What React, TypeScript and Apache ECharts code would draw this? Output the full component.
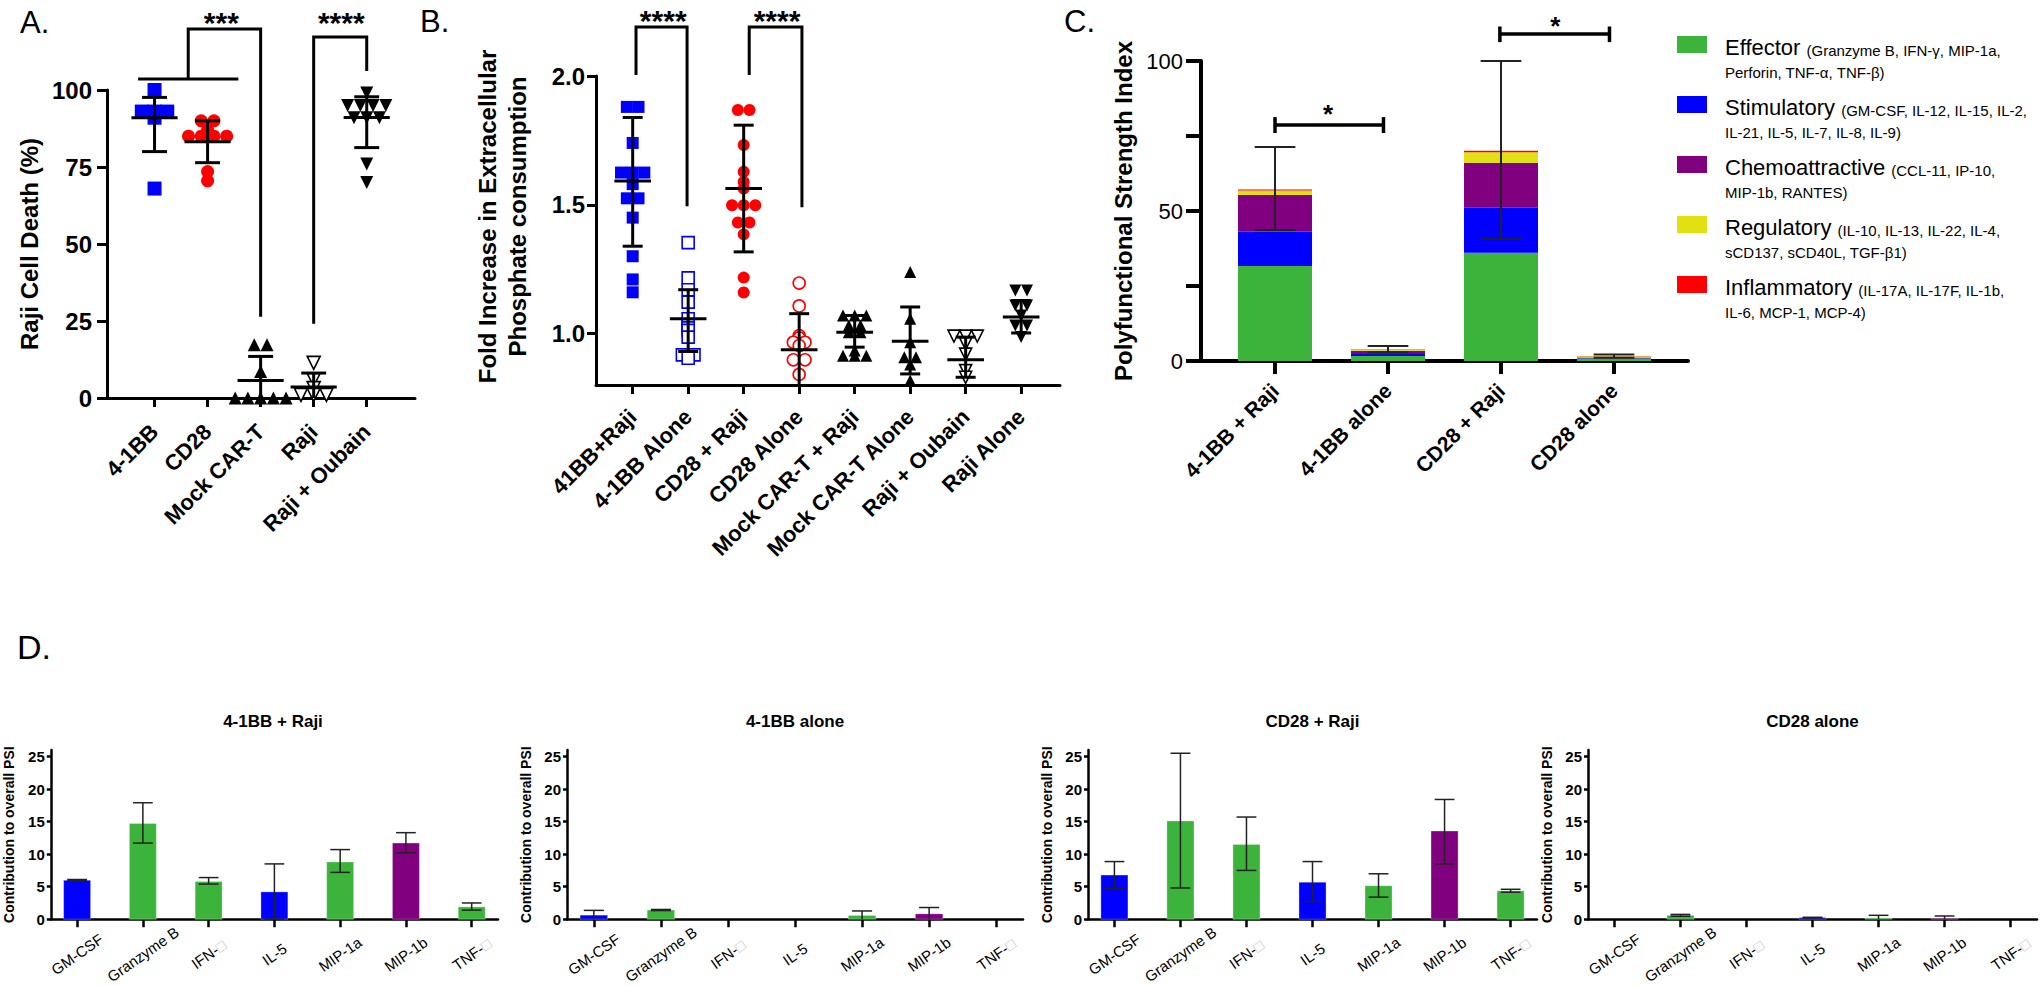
import React, { useEffect, useRef } from 'react';
import * as echarts from 'echarts';

const FONT = '"Liberation Sans", Arial, Helvetica, sans-serif';
const BLACK = '#000000';

// ---------------- Panel A : Raji cell death ----------------
const aCategories = ['4-1BB', 'CD28', 'Mock CAR-T', 'Raji', 'Raji + Oubain'];
const a41BB = [100, 93, 93, 93, 91, 68];
const aCD28 = [90, 90, 87, 85, 85, 85, 85, 73.5, 70.5];
const aMockCART = [17.3, 17.3, 8.6, 0, 0, 0, 0, 0];
const aRaji = [11.4, 5.9, 3.2, 1, 1, 1];
const aRajiOubain = [99, 95, 95, 95, 95, 91, 91, 91, 76, 70];
const aMean = [91, 83.2, 5.7, 3.6, 91.1];
const aLower = [80, 76.4, -2.1, -0.9, 81.3];
const aUpper = [97.6, 90, 13.5, 8.1, 97.8];
const aTicks = [0, 25, 50, 75, 100];
const aBracketLines = [
  [[-0.31, 103.6], [1.58, 103.6]],
  [[0.635, 103.6], [0.635, 119.8], [2.0, 119.8], [2.0, 26.4]],
  [[3.0, 24.1], [3.0, 117.2], [4.0, 117.2], [4.0, 106.2]],
];
const aStars = [
  { x: 1.26, y: 122, text: '***' },
  { x: 3.52, y: 122, text: '****' },
];

// ---------------- Panel B : phosphate consumption ----------------
const bCategories = ['41BB+Raji', '4-1BB Alone', 'CD28 + Raji', 'CD28 Alone', 'Mock CAR-T + Raji', 'Mock CAR-T Alone', 'Raji + Oubain', 'Raji Alone'];
const b41BBRaji = [1.88, 1.88, 1.74, 1.625, 1.625, 1.625, 1.58, 1.525, 1.525, 1.45, 1.3, 1.21, 1.16];
const b41BBAlone = [1.353, 1.216, 1.17, 1.122, 1.057, 1.031, 1.022, 1.012, 0.986, 0.917, 0.917, 0.904];
const bCD28Raji = [1.868, 1.868, 1.732, 1.628, 1.589, 1.563, 1.498, 1.498, 1.498, 1.431, 1.431, 1.385, 1.217, 1.159];
const bCD28Alone = [1.196, 1.107, 0.992, 0.983, 0.966, 0.966, 0.953, 0.898, 0.898, 0.841];
const bMockRaji = [1.07, 1.07, 1.07, 1.031, 1.031, 1.005, 1.005, 0.934, 0.914, 0.914, 0.914];
const bMockAlone = [1.239, 1.057, 0.966, 0.908, 0.908, 0.88, 0.817];
const bRajiOubain = [0.99, 0.99, 0.99, 0.96, 0.92, 0.856, 0.83];
const bRajiAlone = [1.167, 1.167, 1.109, 1.109, 1.07, 1.031, 1.031, 0.986];
const bMean = [1.592, 1.057, 1.563, 0.937, 1.005, 0.97, 0.898, 1.064];
const bLower = [1.339, 0.93, 1.317, 0.797, 0.947, 0.843, 0.83, 1.002];
const bUpper = [1.839, 1.17, 1.809, 1.077, 1.07, 1.103, 0.986, 1.128];
const bTicks = [1.0, 1.5, 2.0];
const bBracketLines = [
  [[0.06, 2.004], [0.06, 2.19], [0.98, 2.19], [0.98, 1.494]],
  [[2.1, 2.004], [2.1, 2.19], [3.05, 2.19], [3.05, 1.49]],
];
const bStars = [
  { x: 0.55, y: 2.216, text: '****' },
  { x: 2.6, y: 2.216, text: '****' },
];

// ---------------- Panel C : polyfunctional strength index ----------------
const cCategories = ['4-1BB + Raji', '4-1BB alone', 'CD28 + Raji', 'CD28 alone'];
const cEffector = [31.7, 1.7, 36.1, 0.8];
const cStimulatory = [11.4, 0.6, 15.0, 0.2];
const cChemoattractive = [12.2, 1.1, 15.0, 0.2];
const cRegulatory = [1.5, 0.5, 3.5, 0.35];
const cInflammatory = [0.4, 0.1, 0.5, 0.1];
const cLower = [43.7, 3.0, 40.7, 1.1];
const cUpper = [71.3, 5.0, 100, 2.2];
const cTickValues = [0, 25, 50, 75, 100];
const cLabelValues = [0, 50, 100];
const cBracketLines = [
  [[0, 78.7], [0.96, 78.7]], [[0, 81.3], [0, 76]], [[0.96, 81.3], [0.96, 76]],
  [[1.99, 109], [2.96, 109]], [[1.99, 111.5], [1.99, 106.3]], [[2.96, 111.5], [2.96, 106.3]],
];
const cStars = [
  { x: 0.47, y: 82.4, text: '*' },
  { x: 2.48, y: 111.8, text: '*' },
];

const classNames = ['Effector', 'Stimulatory', 'Chemoattractive', 'Regulatory', 'Inflammatory'];
const classColors = ['#3cb43c', '#0000ff', '#800080', '#e1e112', '#ff0000'];
const classLine1 = ['(Granzyme B, IFN-γ, MIP-1a,', '(GM-CSF, IL-12, IL-15, IL-2,', '(CCL-11, IP-10,', '(IL-10, IL-13, IL-22, IL-4,', '(IL-17A, IL-17F, IL-1b,'];
const classLine2 = ['Perforin, TNF-α, TNF-β)', 'IL-21, IL-5, IL-7, IL-8, IL-9)', 'MIP-1b, RANTES)', 'sCD137, sCD40L, TGF-β1)', 'IL-6, MCP-1, MCP-4)'];

// ---------------- Panel D : contribution to overall PSI ----------------
const dCytokines = ['GM-CSF', 'Granzyme B', 'IFN-□', 'IL-5', 'MIP-1a', 'MIP-1b', 'TNF-□'];
const dCytokineClass = [1, 0, 0, 1, 0, 2, 0];
const dTitles = ['4-1BB + Raji', '4-1BB alone', 'CD28 + Raji', 'CD28 alone'];
const d41BBRaji = [6.0, 14.7, 5.8, 4.2, 8.8, 11.7, 1.9];
const d41BBRajiLower = [5.95, 11.7, 5.4, 0, 7.2, 10.2, 1.4];
const d41BBRajiUpper = [6.1, 17.9, 6.4, 8.5, 10.7, 13.3, 2.5];
const d41BBAlone = [0.63, 1.41, 0, 0, 0.58, 0.83, 0];
const d41BBAloneLower = [-0.1, 1.33, 0, 0, -0.1, -0.1, 0];
const d41BBAloneUpper = [1.36, 1.5, 0, 0, 1.27, 1.8, 0];
const dCD28Raji = [6.78, 15.1, 11.5, 5.7, 5.15, 13.56, 4.36];
const dCD28RajiLower = [4.7, 4.8, 7.5, 2.7, 3.4, 8.5, 4.15];
const dCD28RajiUpper = [8.86, 25.5, 15.7, 8.86, 6.98, 18.4, 4.6];
const dCD28Alone = [0, 0.6, 0, 0.25, 0.2, 0.15, 0];
const dCD28AloneLower = [0, 0.46, 0, 0.2, -0.1, -0.1, 0];
const dCD28AloneUpper = [0, 0.74, 0, 0.3, 0.6, 0.5, 0];
const dTicks = [0, 5, 10, 15, 20, 25];

// ---------------- helpers ----------------
function swarm(values: number[], center: number, tol: number, step: number): number[][] {
  const sorted = [...values].sort((a, b) => b - a);
  const out: number[][] = [];
  let i = 0;
  while (i < sorted.length) {
    let j = i;
    while (j + 1 < sorted.length && Math.abs(sorted[j + 1] - sorted[i]) <= tol) j++;
    const n = j - i + 1;
    for (let k = 0; k < n; k++) out.push([center + (k - (n - 1) / 2) * step, sorted[i + k]]);
    i = j + 1;
  }
  return out;
}

function catXAxis(gridIndex: number, min: number, max: number, cats: string[], o: any) {
  const idx = cats.map((_, i) => i);
  return {
    type: 'value', gridIndex, min, max,
    splitLine: { show: false },
    axisLine: { show: true, onZero: false, lineStyle: { color: BLACK, width: o.lw } },
    axisTick: { show: true, customValues: idx, length: o.tickLen, lineStyle: { color: BLACK, width: o.lw } },
    axisLabel: {
      customValues: idx,
      formatter: o.formatter || ((v: number) => cats[Math.round(v)] ?? ''),
      rotate: o.rotate, margin: o.margin,
      fontSize: o.fontSize, fontWeight: o.fontWeight, fontFamily: FONT, color: BLACK,
      ...(o.align ? { align: o.align, verticalAlign: 'middle' } : {}),
      ...(o.rich ? { rich: o.rich } : {}),
    },
  };
}

function valYAxis(gridIndex: number, min: number, max: number, ticks: number[], labels: number[], o: any) {
  return {
    type: 'value', gridIndex, min, max,
    splitLine: { show: false },
    axisLine: { show: true, onZero: false, lineStyle: { color: BLACK, width: o.lw } },
    axisTick: { show: true, customValues: ticks, length: o.tickLen, lineStyle: { color: BLACK, width: o.lw } },
    axisLabel: {
      customValues: labels, margin: o.margin,
      formatter: o.formatter || ((v: number) => String(v)),
      fontSize: o.fontSize, fontWeight: o.fontWeight, fontFamily: FONT, color: BLACK,
    },
    name: o.name, nameLocation: 'middle', nameGap: o.nameGap,
    nameTextStyle: {
      fontSize: o.nameSize, fontWeight: 'bold', fontFamily: FONT, color: BLACK,
      lineHeight: o.nameLineHeight || o.nameSize * 1.2,
      ...(o.namePadding ? { padding: o.namePadding } : {}),
    },
  };
}

function errorBars(axisIndex: number, means: number[], lowers: number[], uppers: number[], yMin: number, o: any) {
  return {
    type: 'custom', xAxisIndex: axisIndex, yAxisIndex: axisIndex, z: 5, clip: false, silent: true,
    data: means.map((m, i) => [i, m, lowers[i], uppers[i]]),
    renderItem: (params: any, api: any) => {
      const x = api.value(0), m = api.value(1), lo = api.value(2), hi = api.value(3);
      if (m === 0 && hi === 0) return { type: 'group', children: [] };
      const pm = api.coord([x, m]);
      const phi = api.coord([x, hi]);
      const base = api.coord([x, yMin])[1];
      const clamped = lo < yMin;
      const ploY = clamped ? base : api.coord([x, lo])[1];
      const hc = api.size([o.capW, 0])[0] / 2;
      const hm = api.size([o.meanW || 0, 0])[0] / 2;
      const style = { stroke: o.color || BLACK, lineWidth: o.lw, fill: null };
      const children: any[] = [
        { type: 'line', shape: { x1: pm[0], y1: phi[1], x2: pm[0], y2: ploY }, style },
        { type: 'line', shape: { x1: pm[0] - hc, y1: phi[1], x2: pm[0] + hc, y2: phi[1] }, style },
      ];
      if (!clamped) children.push({ type: 'line', shape: { x1: pm[0] - hc, y1: ploY, x2: pm[0] + hc, y2: ploY }, style });
      if (o.meanW) children.push({ type: 'line', shape: { x1: pm[0] - hm, y1: pm[1], x2: pm[0] + hm, y2: pm[1] }, style });
      return { type: 'group', children };
    },
  };
}

// bars drawn through the axes' scales: each item is [categoryIndex, base, top]
function barRects(axisIndex: number, bases: number[], tops: number[], colors: string[], widthUnits: number, border?: string) {
  return {
    type: 'custom', xAxisIndex: axisIndex, yAxisIndex: axisIndex, z: 2, clip: false, silent: true,
    data: tops.map((t, i) => [i, bases[i], t]),
    renderItem: (params: any, api: any) => {
      const i = params.dataIndex;
      const x = api.value(0), b = api.value(1), t = api.value(2);
      if (t <= b) return { type: 'group', children: [] };
      const p0 = api.coord([x, b]);
      const p1 = api.coord([x, t]);
      const w = api.size([widthUnits, 0])[0];
      return {
        type: 'rect',
        shape: { x: p0[0] - w / 2, y: p1[1], width: w, height: p0[1] - p1[1] },
        style: { fill: colors[i], stroke: border || null, lineWidth: border ? 1 : 0 },
      };
    },
  };
}

function brackets(axisIndex: number, lines: number[][][], stars: any[], lw: number, starSize: number) {
  return {
    type: 'custom', xAxisIndex: axisIndex, yAxisIndex: axisIndex, z: 6, clip: false, silent: true,
    data: [[0, 0]],
    renderItem: (params: any, api: any) => {
      const children: any[] = lines.map((pts) => ({
        type: 'polyline',
        shape: { points: pts.map((p) => api.coord(p)) },
        style: { stroke: BLACK, lineWidth: lw, fill: null, lineJoin: 'miter' },
      }));
      stars.forEach((s) => {
        const p = api.coord([s.x, s.y]);
        children.push({
          type: 'text', x: p[0], y: p[1],
          style: { text: s.text, fontSize: starSize, fontWeight: 'bold', fontFamily: FONT, fill: BLACK, align: 'center', verticalAlign: 'middle' },
        });
      });
      return { type: 'group', children };
    },
  };
}

function scatter(axisIndex: number, values: number[], center: number, tol: number, step: number, st: any) {
  return {
    type: 'scatter', xAxisIndex: axisIndex, yAxisIndex: axisIndex, z: 3, silent: true,
    symbol: st.symbol, symbolSize: st.size, symbolRotate: st.rotate || 0,
    itemStyle: st.open
      ? { color: '#ffffff', borderColor: st.color, borderWidth: 1.6, opacity: 1 }
      : { color: st.color, opacity: 1 },
    data: swarm(values, center, tol, step),
  };
}

function buildOption() {
  const grids = [
    { left: 107, top: 90, width: 308, height: 308 },
    { left: 596, top: 76, width: 464, height: 309 },
    { left: 1201, top: 61, width: 487, height: 300 },
    { left: 48, top: 750, width: 450, height: 176 },
    { left: 567, top: 750, width: 456, height: 176 },
    { left: 1088, top: 750, width: 449, height: 176 },
    { left: 1588, top: 750, width: 449, height: 176 },
  ];

  const dLabelFormatter = (v: number) => (dCytokines[Math.round(v)] ?? '').replace('□', '{g|□}');
  const xAxes: any[] = [
    catXAxis(0, -0.896, 4.91, aCategories, { lw: 3, tickLen: 9, rotate: 45, margin: 30, fontSize: 22, fontWeight: 'bold' }),
    catXAxis(1, -0.661, 7.7, bCategories, { lw: 3, tickLen: 9, rotate: 45, margin: 28, fontSize: 22, fontWeight: 'bold' }),
    catXAxis(2, -0.655, 3.655, cCategories, { lw: 4, tickLen: 13, rotate: 45, margin: 26, fontSize: 21, fontWeight: 'bold' }),
  ];
  const yAxes: any[] = [
    valYAxis(0, 0, 100, aTicks, aTicks, { lw: 3, tickLen: 10, margin: 15, fontSize: 24, fontWeight: 'bold', name: 'Raji Cell Death (%)', nameGap: 63, nameSize: 24 }),
    valYAxis(1, 0.8, 2.0, bTicks, bTicks, {
      lw: 3, tickLen: 9, margin: 11, fontSize: 24, fontWeight: 'bold', formatter: (v: number) => v.toFixed(1),
      name: 'Fold Increase in Extracellular\nPhosphate consumption', nameGap: 64, nameSize: 24, nameLineHeight: 30, namePadding: [0, 0, 0, 28],
    }),
    valYAxis(2, 0, 100, cTickValues, cLabelValues, { lw: 4, tickLen: 15, margin: 18, fontSize: 22, fontWeight: 'normal', name: 'Polyfunctional Strength Index', nameGap: 63, nameSize: 24 }),
  ];
  for (let k = 0; k < 4; k++) {
    xAxes.push(catXAxis(3 + k, -0.4, 6.4, dCytokines, {
      lw: 2.5, tickLen: 8, rotate: 35, margin: 35, fontSize: 15, fontWeight: 'normal', align: 'center',
      formatter: dLabelFormatter, rich: { g: { color: '#c4c4c4', fontSize: 15, fontFamily: FONT } },
    }));
    yAxes.push(valYAxis(3 + k, 0, 26, dTicks, dTicks, { lw: 2.5, tickLen: 4, margin: 6, fontSize: 15, fontWeight: 'bold', name: 'Contribution to overall PSI', nameGap: 33, nameSize: 14 }));
  }

  const series: any[] = [];
  // Panel A
  const aStyles = [
    { symbol: 'rect', size: 14, color: '#0000ff' },
    { symbol: 'circle', size: 13, color: '#ff0000' },
    { symbol: 'triangle', size: 13, color: BLACK },
    { symbol: 'triangle', size: 13, color: BLACK, rotate: 180, open: true },
    { symbol: 'triangle', size: 13, color: BLACK, rotate: 180 },
  ];
  [a41BB, aCD28, aMockCART, aRaji, aRajiOubain].forEach((vals, i) => series.push(scatter(0, vals, i, 0.5, 0.24, aStyles[i])));
  series.push(errorBars(0, aMean, aLower, aUpper, 0, { lw: 3, capW: 0.47, meanW: 0.87 }));
  series.push(brackets(0, aBracketLines, aStars, 3, 30));

  // Panel B
  const bStyles = [
    { symbol: 'rect', size: 12, color: '#0000ff' },
    { symbol: 'rect', size: 12, color: '#0000ff', open: true },
    { symbol: 'circle', size: 12, color: '#ff0000' },
    { symbol: 'circle', size: 12, color: '#ff0000', open: true },
    { symbol: 'triangle', size: 12, color: BLACK },
    { symbol: 'triangle', size: 12, color: BLACK },
    { symbol: 'triangle', size: 12, color: BLACK, rotate: 180, open: true },
    { symbol: 'triangle', size: 12, color: BLACK, rotate: 180 },
  ];
  [b41BBRaji, b41BBAlone, bCD28Raji, bCD28Alone, bMockRaji, bMockAlone, bRajiOubain, bRajiAlone].forEach((vals, i) =>
    series.push(scatter(1, vals, i, 0.006, 0.21, bStyles[i])));
  series.push(errorBars(1, bMean, bLower, bUpper, 0.8, { lw: 3, capW: 0.36, meanW: 0.66 }));
  series.push(brackets(1, bBracketLines, bStars, 3, 30));

  // Panel C stacked bars (cumulative bases computed from the class arrays)
  const cLayers = [cEffector, cStimulatory, cChemoattractive, cRegulatory, cInflammatory];
  let running = cCategories.map(() => 0);
  cLayers.forEach((vals, li) => {
    const bases = running.slice();
    const tops = running.map((r, i) => r + vals[i]);
    series.push(barRects(2, bases, tops, cCategories.map(() => classColors[li]), 0.655));
    running = tops;
  });
  series.push(errorBars(2, running, cLower, cUpper, 0, { lw: 2, capW: 0.36, color: '#222222' }));
  series.push(brackets(2, cBracketLines, cStars, 3.5, 26));

  // Panel D bars
  const dVals = [d41BBRaji, d41BBAlone, dCD28Raji, dCD28Alone];
  const dLo = [d41BBRajiLower, d41BBAloneLower, dCD28RajiLower, dCD28AloneLower];
  const dHi = [d41BBRajiUpper, d41BBAloneUpper, dCD28RajiUpper, dCD28AloneUpper];
  const dColors = dCytokineClass.map((c) => classColors[c]);
  dVals.forEach((vals, k) => {
    series.push(barRects(3 + k, vals.map(() => 0), vals, dColors, 0.41, 'rgba(255,255,255,0.3)'));
    series.push(errorBars(3 + k, vals, dLo[k], dHi[k], 0, { lw: 1.5, capW: 0.3, color: '#222222' }));
  });

  // Graphic: panel letters, D titles, legend for C
  const graphic: any[] = [];
  const letters = [
    { t: 'A.', x: 20, y: 22, s: 31 },
    { t: 'B.', x: 420, y: 21, s: 31 },
    { t: 'C.', x: 1064, y: 21, s: 31 },
    { t: 'D.', x: 17, y: 647, s: 34 },
  ];
  letters.forEach((l) => graphic.push({ type: 'text', x: l.x, y: l.y, silent: true, style: { text: l.t, fontSize: l.s, fontFamily: FONT, fill: BLACK, align: 'left', verticalAlign: 'middle' } }));
  dTitles.forEach((t, k) => {
    const g = grids[3 + k];
    graphic.push({ type: 'text', x: g.left + g.width / 2, y: 721, silent: true, style: { text: t, fontSize: 17, fontWeight: 'bold', fontFamily: FONT, fill: BLACK, align: 'center', verticalAlign: 'middle' } });
  });
  classNames.forEach((n, i) => {
    const top = 36 + i * 60;
    graphic.push({ type: 'rect', x: 1677, y: top, silent: true, shape: { width: 30, height: 17 }, style: { fill: classColors[i] } });
    graphic.push({
      type: 'text', x: 1725, y: top - 5, silent: true,
      style: {
        text: `{n|${n} }{d|${classLine1[i]}}\n{d|${classLine2[i]}}`,
        align: 'left', verticalAlign: 'top', fill: BLACK,
        rich: {
          n: { fontSize: 22, fontFamily: FONT, fill: BLACK, lineHeight: 27, verticalAlign: 'bottom' },
          d: { fontSize: 15, fontFamily: FONT, fill: BLACK, lineHeight: 22, verticalAlign: 'bottom' },
        },
      },
    });
  });

  return {
    animation: false,
    backgroundColor: '#ffffff',
    grid: grids.map((g) => ({ ...g, containLabel: false })),
    xAxis: xAxes,
    yAxis: yAxes,
    series,
    graphic,
  };
}

export default function App() {
  const ref = useRef<HTMLDivElement>(null);
  useEffect(() => {
    if (!ref.current) return;
    const chart = echarts.init(ref.current, null, { renderer: 'svg' });
    chart.setOption(buildOption() as any);
    return () => chart.dispose();
  }, []);
  return <div ref={ref} style={{ position: 'fixed', left: 0, top: 0, width: 2040, height: 986, background: '#ffffff' }} />;
}
